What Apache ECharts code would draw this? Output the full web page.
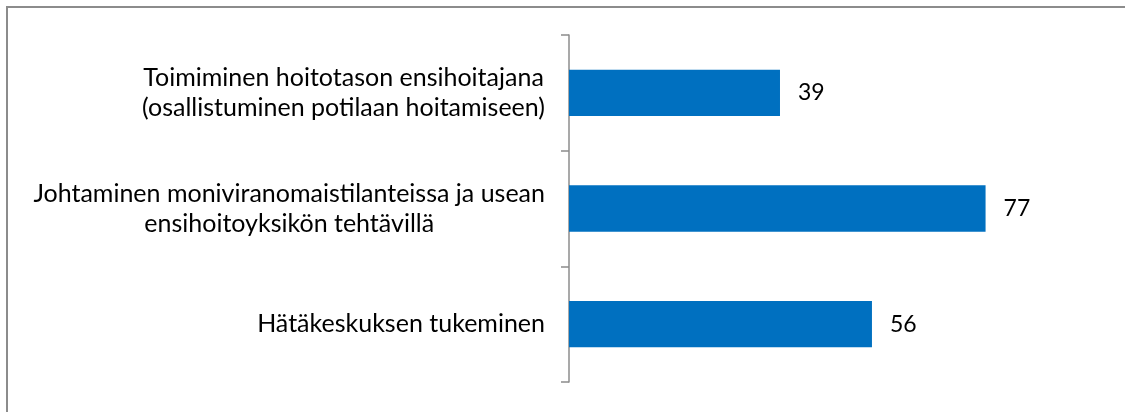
<!DOCTYPE html>
<html lang="fi">
<head>
    <meta charset="UTF-8">
    <script src="https://cdn.jsdelivr.net/npm/echarts@6/dist/echarts.min.js"></script>
    <title>Ensihoitajan tehtävät</title>
    <style>
        html, body { margin: 0; padding: 0; background: #fff; }
    </style>
</head>
<body>
    <div id="main" style="width: 1125px; height: 412px;"></div>
    <script>
        // data, top to bottom
        var categories = [
            'Toimiminen hoitotason ensihoitajana\n(osallistuminen potilaan hoitamiseen)',
            'Johtaminen moniviranomaistilanteissa ja usean\nensihoitoyksikön tehtävillä',
            'Hätäkeskuksen tukeminen'
        ];
        var values = [39, 77, 56];

        var myChart = echarts.init(document.getElementById('main'));

        var option = {
            backgroundColor: '#fff',
            animation: false,
            textStyle: { fontFamily: 'Lato' },
            graphic: [{
                type: 'rect',
                shape: { x: 7, y: 7, width: 1140, height: 430 },
                style: { fill: 'none', stroke: '#8c8c8c', lineWidth: 2 },
                silent: true
            }],
            grid: { left: 569, right: 15, top: 35, bottom: 30 },
            xAxis: {
                type: 'value',
                min: 0,
                max: 100,
                show: false
            },
            yAxis: {
                type: 'category',
                inverse: true,
                data: categories,
                axisLine: { show: true, lineStyle: { color: '#8c8c8c', width: 1.5 } },
                axisTick: { show: true, inside: false, length: 8, lineStyle: { color: '#8c8c8c', width: 1.5 } },
                axisLabel: {
                    margin: 24,
                    color: '#000',
                    fontSize: 25,
                    lineHeight: 30,
                    // center the lines inside each label block
                    formatter: function (v) {
                        return v.split('\n').map(function (s) { return '{c|' + s + '}'; }).join('\n');
                    },
                    rich: {
                        c: { align: 'center', fontSize: 25, lineHeight: 30, color: '#000', fontFamily: 'Lato' }
                    }
                }
            },
            series: [{
                type: 'bar',
                data: values,
                barWidth: '40%',
                itemStyle: { color: '#0070c0' },
                label: {
                    show: true,
                    position: 'right',
                    distance: 18,
                    color: '#000',
                    fontSize: 23,
                    fontFamily: 'Lato'
                }
            }]
        };
        myChart.setOption(option);
    </script>
</body>
</html>
